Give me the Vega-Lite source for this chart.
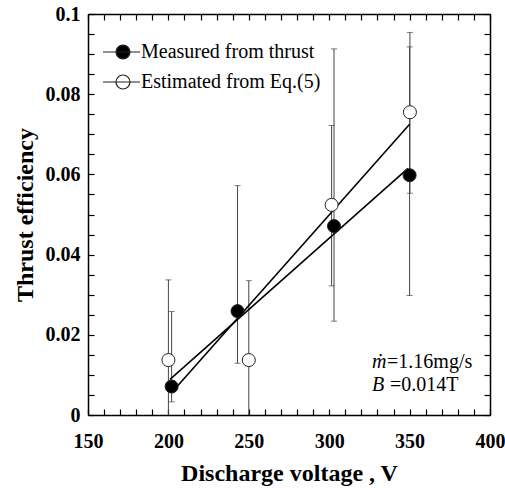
{
  "$schema": "https://vega.github.io/schema/vega-lite/v6.json",
  "width": 402,
  "height": 401,
  "autosize": {"type": "none"},
  "padding": {"left": 88, "top": 14, "right": 15, "bottom": 73},
  "background": "white",
  "config": {
    "view": {"stroke": null},
    "axis": {
      "domainColor": "black", "domainWidth": 1.5, "tickColor": "black", "tickWidth": 1.2,
      "grid": false, "labelFont": "Liberation Serif", "labelFontWeight": "bold", "labelFontSize": 20,
      "labelColor": "black", "titleFont": "Liberation Serif", "titleFontWeight": "bold",
      "titleFontSize": 24, "titleColor": "black", "labelOverlap": false, "labelFlush": false
    }
  },
  "datasets": {
    "pts": [
      {"series": "Measured from thrust", "volt": 202, "eff": 0.0071, "lo": 0.0033, "hi": 0.0258},
      {"series": "Measured from thrust", "volt": 243, "eff": 0.0259, "lo": 0.0129, "hi": 0.0572},
      {"series": "Measured from thrust", "volt": 303, "eff": 0.0471, "lo": 0.0234, "hi": 0.0913},
      {"series": "Measured from thrust", "volt": 350, "eff": 0.0598, "lo": 0.0298, "hi": 0.0918},
      {"series": "Estimated from Eq.(5)", "volt": 200, "eff": 0.0137, "lo": -0.0065, "hi": 0.0337},
      {"series": "Estimated from Eq.(5)", "volt": 250, "eff": 0.0137, "lo": -0.0065, "hi": 0.0335},
      {"series": "Estimated from Eq.(5)", "volt": 301.5, "eff": 0.0524, "lo": 0.0322, "hi": 0.0722},
      {"series": "Estimated from Eq.(5)", "volt": 350.2, "eff": 0.0755, "lo": 0.0553, "hi": 0.0954}
    ],
    "fits": [
      {"series": "Measured from thrust", "volt": 201, "eff": 0.0089},
      {"series": "Measured from thrust", "volt": 349, "eff": 0.0615},
      {"series": "Estimated from Eq.(5)", "volt": 204, "eff": 0.0065},
      {"series": "Estimated from Eq.(5)", "volt": 350, "eff": 0.0725}
    ],
    "notesItalic": [
      {"t": "ṁ", "volt": 326.6, "eff": 0.0132},
      {"t": "B", "volt": 326.6, "eff": 0.0075}
    ],
    "notes": [
      {"t": "=1.16mg/s", "volt": 336, "eff": 0.0132},
      {"t": "=0.014T", "volt": 337.8, "eff": 0.0075}
    ]
  },
  "resolve": {"axis": {"x": "independent", "y": "independent"}},
  "layer": [
    {
      "data": {"name": "pts"},
      "mark": {"type": "rule", "color": "#444", "strokeWidth": 1, "clip": true},
      "encoding": {
        "x": {
          "field": "volt", "type": "quantitative",
          "scale": {"domain": [150, 400], "nice": false, "zero": false},
          "axis": {
            "orient": "bottom",
            "values": [150,160,170,180,190,200,210,220,230,240,250,260,270,280,290,300,310,320,330,340,350,360,370,380,390,400],
            "tickSize": -6, "labelPadding": 22,
            "labelExpr": "datum.value % 50 == 0 ? datum.label : ''",
            "title": "Discharge voltage , V", "titlePadding": 10,
            "encode": {"ticks": {"update": {"y2": {"signal": "datum.value % 50 == 0 ? -6 : -3"}}}}
          }
        },
        "y": {
          "field": "lo", "type": "quantitative",
          "scale": {"domain": [0, 0.1], "nice": false, "zero": false},
          "axis": {
            "orient": "left",
            "values": [0,0.005,0.01,0.015,0.02,0.025,0.03,0.035,0.04,0.045,0.05,0.055,0.06,0.065,0.07,0.075,0.08,0.085,0.09,0.095,0.1],
            "tickSize": -6, "labelPadding": 14,
            "labelExpr": "round(datum.value*1000) % 20 == 0 ? format(datum.value, '~g') : ''",
            "title": "Thrust efficiency", "titlePadding": 8,
            "encode": {"ticks": {"update": {"x2": {"signal": "round(datum.value*1000) % 20 == 0 ? 6 : 3"}}}}
          }
        },
        "y2": {"field": "hi"}
      }
    },
    {
      "data": {"name": "pts"},
      "mark": {"type": "tick", "orient": "horizontal", "color": "#444", "size": 6, "thickness": 1, "clip": true},
      "encoding": {
        "x": {"field": "volt", "type": "quantitative", "scale": {"domain": [150, 400], "nice": false, "zero": false}, "axis": null},
        "y": {"field": "hi", "type": "quantitative", "scale": {"domain": [0, 0.1], "nice": false, "zero": false}, "axis": null}
      }
    },
    {
      "data": {"name": "pts"},
      "mark": {"type": "tick", "orient": "horizontal", "color": "#444", "size": 6, "thickness": 1, "clip": true},
      "encoding": {
        "x": {"field": "volt", "type": "quantitative", "scale": {"domain": [150, 400], "nice": false, "zero": false}, "axis": null},
        "y": {"field": "lo", "type": "quantitative", "scale": {"domain": [0, 0.1], "nice": false, "zero": false}, "axis": null}
      }
    },
    {
      "data": {"name": "fits"},
      "mark": {"type": "line", "color": "black", "strokeWidth": 1.6},
      "encoding": {
        "detail": {"field": "series", "type": "nominal"},
        "x": {
          "field": "volt", "type": "quantitative",
          "scale": {"domain": [150, 400], "nice": false, "zero": false},
          "axis": {
            "orient": "top", "labels": false, "title": null,
            "values": [150,160,170,180,190,200,210,220,230,240,250,260,270,280,290,300,310,320,330,340,350,360,370,380,390,400],
            "tickSize": -6,
            "encode": {"ticks": {"update": {"y2": {"signal": "datum.value % 50 == 0 ? 6 : 3"}}}}
          }
        },
        "y": {
          "field": "eff", "type": "quantitative",
          "scale": {"domain": [0, 0.1], "nice": false, "zero": false},
          "axis": {
            "orient": "right", "labels": false, "title": null,
            "values": [0,0.005,0.01,0.015,0.02,0.025,0.03,0.035,0.04,0.045,0.05,0.055,0.06,0.065,0.07,0.075,0.08,0.085,0.09,0.095,0.1],
            "tickSize": -6,
            "encode": {"ticks": {"update": {"x2": {"signal": "round(datum.value*1000) % 20 == 0 ? -6 : -3"}}}}
          }
        }
      }
    },
    {
      "data": {"name": "pts"},
      "mark": {"type": "circle", "size": 170, "stroke": "#222", "strokeWidth": 1, "opacity": 1},
      "encoding": {
        "x": {"field": "volt", "type": "quantitative", "scale": {"domain": [150, 400], "nice": false, "zero": false}, "axis": null},
        "y": {"field": "eff", "type": "quantitative", "scale": {"domain": [0, 0.1], "nice": false, "zero": false}, "axis": null},
        "fill": {
          "field": "series", "type": "nominal",
          "scale": {"domain": ["Measured from thrust", "Estimated from Eq.(5)"], "range": ["black", "white"]},
          "legend": {
            "orient": "none", "legendX": 13, "legendY": 28, "title": null, "padding": 0,
            "symbolType": "M-1,0L3.625,0M2.375,0A0.875,0.875,0,1,1,0.625,0A0.875,0.875,0,1,1,2.375,0Z",
            "symbolSize": 256, "symbolStrokeColor": "#222", "symbolStrokeWidth": 1.2,
            "labelFont": "Liberation Serif", "labelFontSize": 20, "labelColor": "black", "labelLimit": 0,
            "labelOffset": 20, "rowPadding": 10, "symbolOpacity": 1
          }
        }
      }
    },
    {
      "data": {"name": "notesItalic"},
      "mark": {"type": "text", "font": "Liberation Serif", "fontStyle": "italic", "fontSize": 20, "align": "left", "baseline": "middle", "color": "black"},
      "encoding": {
        "x": {"field": "volt", "type": "quantitative", "scale": {"domain": [150, 400], "nice": false, "zero": false}, "axis": null},
        "y": {"field": "eff", "type": "quantitative", "scale": {"domain": [0, 0.1], "nice": false, "zero": false}, "axis": null},
        "text": {"field": "t"}
      }
    },
    {
      "data": {"name": "notes"},
      "mark": {"type": "text", "font": "Liberation Serif", "fontSize": 20, "align": "left", "baseline": "middle", "color": "black"},
      "encoding": {
        "x": {"field": "volt", "type": "quantitative", "scale": {"domain": [150, 400], "nice": false, "zero": false}, "axis": null},
        "y": {"field": "eff", "type": "quantitative", "scale": {"domain": [0, 0.1], "nice": false, "zero": false}, "axis": null},
        "text": {"field": "t"}
      }
    }
  ]
}
